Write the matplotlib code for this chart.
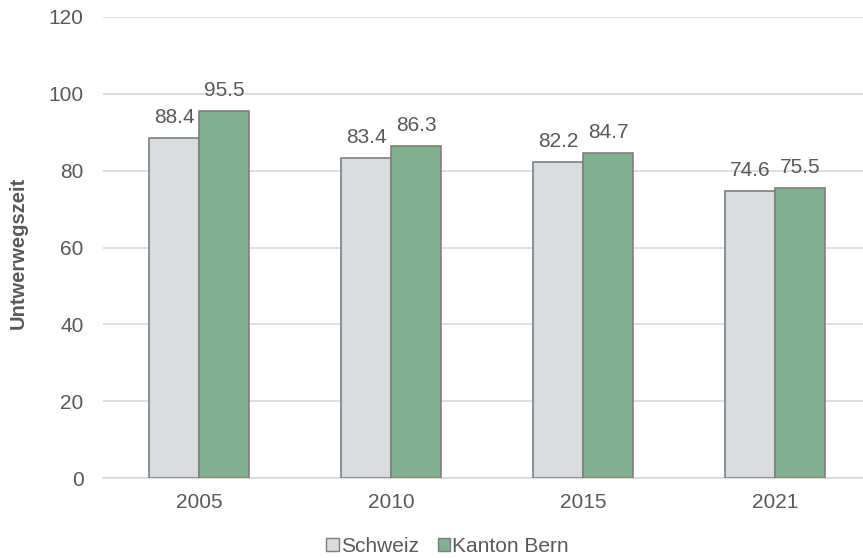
import numpy as np
import matplotlib.pyplot as plt
from matplotlib.patches import Patch

# chart data
years = ['2005', '2010', '2015', '2021']
schweiz = [88.4, 83.4, 82.2, 74.6]
kanton_bern = [95.5, 86.3, 84.7, 75.5]

plt.rcParams['font.family'] = ['Liberation Sans', 'DejaVu Sans']
text_col = '#595959'
fs = 15

fig = plt.figure(figsize=(8.63, 5.58), dpi=100)
ax = fig.add_axes([103 / 863, 1 - 478 / 558, 768 / 863, 461 / 558])

x = np.arange(len(years))
w = 0.26
b1 = ax.bar(x - w / 2, schweiz, w, color='#D9DCDF', edgecolor='#7F7F7F', linewidth=1.2, zorder=3)
b2 = ax.bar(x + w / 2, kanton_bern, w, color='#82AF90', edgecolor='#7F7F7F', linewidth=1.2, zorder=3)

# value labels above bars
for bars, vals in [(b1, schweiz), (b2, kanton_bern)]:
    for rect, v in zip(bars, vals):
        ax.text(rect.get_x() + rect.get_width() / 2, v + 3.9, f'{v:.1f}',
                ha='center', va='baseline', fontsize=fs, color=text_col)

ax.set_xlim(-0.5, 3.5)
ax.set_ylim(0, 120)
ax.set_yticks(range(0, 121, 20))
ax.set_xticks(x)
ax.set_xticklabels(years)
ax.yaxis.grid(True, color='#D9D9D9', linewidth=1.2, zorder=0)
ax.tick_params(axis='both', length=0, labelsize=fs, colors=text_col)
ax.tick_params(axis='y', pad=14)
ax.tick_params(axis='x', pad=11)
for s in ['top', 'right', 'left']:
    ax.spines[s].set_visible(False)
ax.spines['bottom'].set_color('#D9D9D9')
ax.spines['bottom'].set_linewidth(1.2)

ax.set_ylabel('Untwerwegszeit', fontsize=14.5, fontweight='bold', color=text_col)
ax.yaxis.set_label_coords(-0.0977, 0.488)

handles = [Patch(facecolor='#D9DCDF', edgecolor='#7F7F7F', label='Schweiz'),
           Patch(facecolor='#82AF90', edgecolor='#7F7F7F', label='Kanton Bern')]
fig.legend(handles=handles, loc='center', bbox_to_anchor=(447.5 / 863, 1 - 546 / 558), ncol=2,
           frameon=False, fontsize=fs, handlelength=0.6, handleheight=0.6,
           handletextpad=0.1, columnspacing=0.9, labelcolor=text_col,
           borderpad=0, borderaxespad=0)

fig.savefig('out.png', dpi=100)
